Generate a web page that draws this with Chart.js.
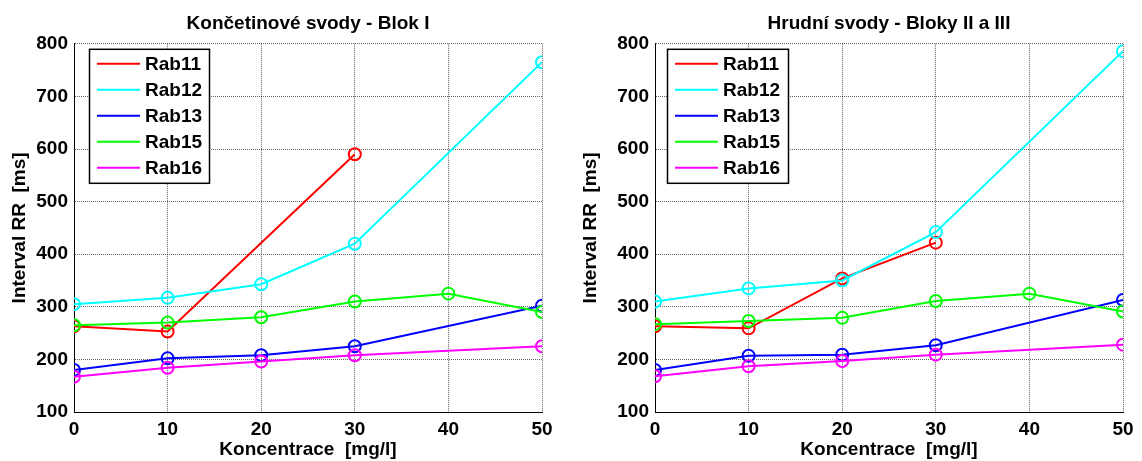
<!DOCTYPE html>
<html>
<head>
<meta charset="utf-8">
<script src="https://cdn.jsdelivr.net/npm/chart.js@4"></script>
<style>
  body { margin: 0; background: #fff; }
  .wrap { position: absolute; top: 0; width: 571px; height: 461px; }
</style>
</head>
<body>
<div class="wrap" style="left:0"><canvas id="c1" width="571" height="461"></canvas></div>
<div class="wrap" style="left:571px"><canvas id="c2" width="571" height="461"></canvas></div>
<script>
// koncentrace (x) a série - null = bod chybí, čára se propojí
const koncentrace = [0, 10, 20, 30, 40, 50];
const nazvy = ["Rab11", "Rab12", "Rab13", "Rab15", "Rab16"];
const barvy = ["#ff0000", "#00ffff", "#0000ff", "#00ff00", "#ff00ff"];

// Končetinové svody - Blok I
const blok1_rab11 = [263, 253, null, 590, null, null];
const blok1_rab12 = [305, 317, 343, 420, null, 765];
const blok1_rab13 = [180, 202, 208, 225, null, 302];
const blok1_rab15 = [265, 270, 280, 310, 325, 290];
const blok1_rab16 = [167, 184, 196, 208, null, 225];

// Hrudní svody - Bloky II a III
const blok2_rab11 = [263, 259, 354, 422, null, null];
const blok2_rab12 = [310, 335, 350, 442, null, 786];
const blok2_rab13 = [180, 207, 209, 227, null, 313];
const blok2_rab15 = [267, 273, 279, 311, 325, 291];
const blok2_rab16 = [168, 187, 197, 209, null, 228];

const yTicks = [100, 200, 300, 400, 500, 600, 700, 800];

const FONT = "'Liberation Sans', Arial, Helvetica, sans-serif";

// legenda uvnitř grafu (jako v Matlabu)
const innerLegend = {
  id: "innerLegend",
  afterDraw(chart, args, opts) {
    const ctx = chart.ctx;
    const a = chart.chartArea;
    const x0 = a.left + opts.offsetX;
    const y0 = a.top + 5;
    const w = opts.width, h = 134;
    ctx.save();
    ctx.fillStyle = "#fff";
    ctx.fillRect(x0, y0, w, h);
    ctx.strokeStyle = "#000";
    ctx.lineWidth = 1.5;
    ctx.strokeRect(x0 + 0.5, y0 + 0.5, w, h);
    ctx.font = "bold 19px " + FONT;
    ctx.textBaseline = "middle";
    ctx.textAlign = "left";
    chart.data.datasets.forEach((ds, i) => {
      const yy = y0 + 15 + i * 26;
      ctx.strokeStyle = ds.borderColor;
      ctx.lineWidth = 2;
      ctx.beginPath();
      ctx.moveTo(x0 + 8, yy);
      ctx.lineTo(x0 + 51, yy);
      ctx.stroke();
      ctx.fillStyle = "#000";
      ctx.fillText(ds.label, x0 + 56, yy + 1);
    });
    ctx.restore();
  }
};

const makeChart = (id, title, series, yWidth, padRight, legX, legW) => {
  const ctx = document.getElementById(id).getContext("2d");
  const datasets = series.map((vals, i) => ({
    label: nazvy[i],
    data: vals.map((v, k) => ({ x: koncentrace[k], y: v })),
    borderColor: barvy[i],
    backgroundColor: "rgba(0,0,0,0)",
    borderWidth: 2,
    pointRadius: 6,
    pointBorderWidth: 2,
    pointBackgroundColor: "rgba(0,0,0,0)",
    pointBorderColor: barvy[i],
    spanGaps: true,
    tension: 0,
    order: 5 - i,
  }));

  new Chart(ctx, {
    type: "line",
    data: { datasets: datasets },
    plugins: [innerLegend],
    options: {
      responsive: false,
      animation: false,
      devicePixelRatio: 1,
      layout: { padding: { left: 0, right: padRight, top: 0, bottom: 0 } },
      plugins: {
        legend: { display: false },
        tooltip: { enabled: false },
        title: {
          display: true,
          text: title,
          fullSize: false,
          color: "#000",
          font: { family: FONT, size: 19, weight: "bold" },
          padding: { top: 12, bottom: 9 },
        },
        innerLegend: { offsetX: legX, width: legW },
      },
      scales: {
        x: {
          type: "linear",
          min: 0,
          max: 50,
          afterFit: (s) => { s.height = 49; },
          ticks: {
            stepSize: 10,
            maxRotation: 0,
            color: "#000",
            padding: 6,
            font: { family: FONT, size: 19, weight: "bold" },
          },
          grid: { color: "rgba(0,0,0,0.6)", drawTicks: false, lineWidth: 1 },
          border: { color: "#000", width: 1, dash: [1, 1] },
          title: {
            display: true,
            text: "Koncentrace  [mg/l]",
            color: "#000",
            font: { family: FONT, size: 19, weight: "bold" },
            padding: { top: 1, bottom: 0 },
          },
        },
        y: {
          min: 100,
          max: 800,
          afterFit: (s) => { s.width = yWidth; },
          afterBuildTicks: (s) => { s.ticks = yTicks.map((v) => ({ value: v })); },
          ticks: {
            color: "#000",
            padding: 6,
            font: { family: FONT, size: 19, weight: "bold" },
          },
          grid: { color: "rgba(0,0,0,0.6)", drawTicks: false, lineWidth: 1 },
          border: { color: "#000", width: 1, dash: [1, 1] },
          title: {
            display: true,
            text: "Interval RR  [ms]",
            color: "#000",
            font: { family: FONT, size: 19, weight: "bold" },
            padding: { top: 8, bottom: 0 },
          },
        },
      },
    },
  });
};

makeChart("c1", "Končetinové svody - Blok I",
  [blok1_rab11, blok1_rab12, blok1_rab13, blok1_rab15, blok1_rab16], 74, 29, 15, 120);
makeChart("c2", "Hrudní svody - Bloky II a III",
  [blok2_rab11, blok2_rab12, blok2_rab13, blok2_rab15, blok2_rab16], 84, 19, 12, 121);
</script>
</body>
</html>
